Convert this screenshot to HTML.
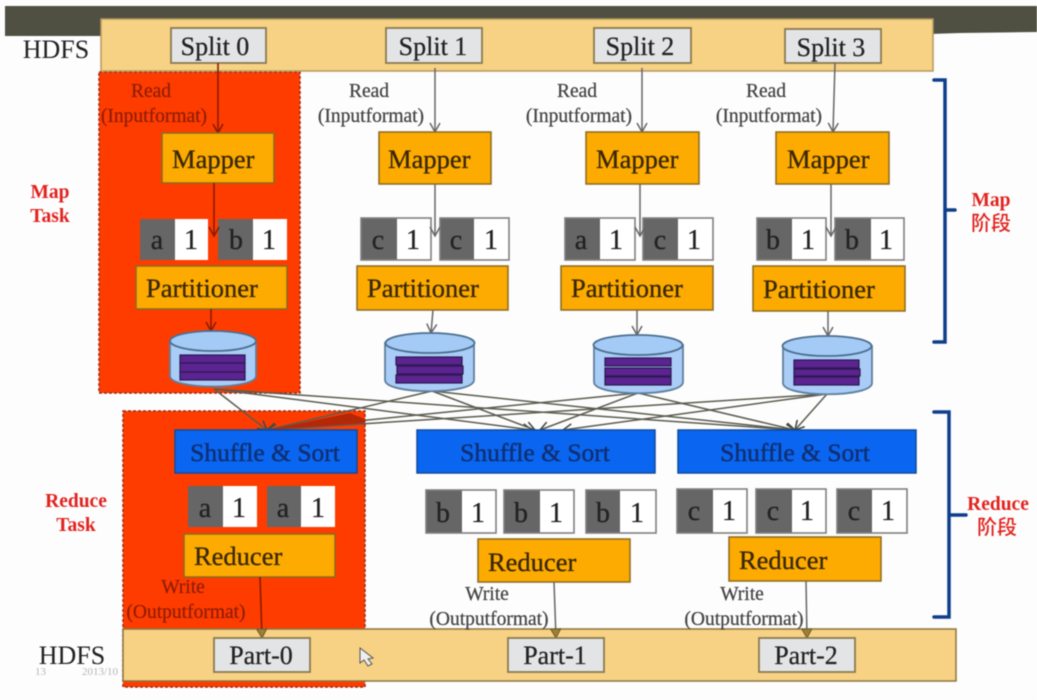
<!DOCTYPE html>
<html>
<head>
<meta charset="utf-8">
<style>
html,body{margin:0;padding:0;background:#fdfdfd;width:1037px;height:700px;overflow:hidden}
svg{display:block;filter:blur(0.55px)}
text{font-family:"Liberation Serif","Noto Serif CJK SC",serif}
.t26{font-size:26.5px;fill:#3a2804;stroke:#3a2804;stroke-width:.35}
.sp{font-size:26px;fill:#222;stroke:#222;stroke-width:.25;text-anchor:middle}
.sh{font-size:25.5px;fill:#0f2f74;stroke:#0f2f74;stroke-width:.45;text-anchor:middle}
.lb{font-size:19.5px;fill:#444;stroke:#444;stroke-width:.25;text-anchor:middle}
.lr{font-size:19.500px;fill:#8f1e06;stroke:#8f1e06;stroke-width:.25;text-anchor:middle}
.rd{font-size:19.5px;fill:#e2231f;font-weight:bold;text-anchor:middle}
.cj{font-size:20px;fill:#e2231f;text-anchor:middle;font-family:"Noto Sans CJK SC",sans-serif;font-weight:500}
.kv{font-size:28px;fill:#222;stroke:#222;stroke-width:.3;text-anchor:middle}
.o{fill:#fdab00;stroke:#8a6a20;stroke-width:1.5}
.s{fill:#e3e4e6;stroke:#8b7a50;stroke-width:1.8}
.b{fill:#0a66f0;stroke:#104a9c;stroke-width:1.5}
.g{fill:#666;stroke:none}
.w{fill:#fff;stroke:none}
.f{fill:none;stroke:#808080;stroke-width:1.6}
.l{fill:none;stroke:#666;stroke-width:1.5}
.ld{fill:none;stroke:#8a1c04;stroke-width:1.6}
.x{fill:none;stroke:#5c5c50;stroke-width:1.5}
.br{fill:none;stroke:#0f3f8c;stroke-width:3.5;stroke-linecap:round}
.cb{fill:#a9cdf6;stroke:#5f7f9f;stroke-width:1.8}
.ct{fill:#a3cbf5;stroke:#4c6f90;stroke-width:1.8}
.pu{fill:#5b2490;stroke:#2c1a50;stroke-width:1.2}
</style>
</head>
<body>
<svg width="1037" height="700" viewBox="0 0 1037 700" xmlns="http://www.w3.org/2000/svg">
<defs>
<marker id="ag" markerWidth="14" markerHeight="14" refX="11" refY="6" orient="auto" markerUnits="userSpaceOnUse"><path d="M2 1 L11 6 L2 11" fill="none" stroke="#666" stroke-width="1.5"/></marker>
<marker id="ar" markerWidth="14" markerHeight="14" refX="11" refY="6" orient="auto" markerUnits="userSpaceOnUse"><path d="M2 1 L11 6 L2 11" fill="none" stroke="#8a1c04" stroke-width="1.6"/></marker>
<marker id="at" markerWidth="14" markerHeight="14" refX="11" refY="6" orient="auto" markerUnits="userSpaceOnUse"><path d="M2 1 L11 6 L2 11 Z" fill="#a08030" stroke="#6a5a30" stroke-width="1"/></marker>
<marker id="ad" markerWidth="14" markerHeight="14" refX="11" refY="6" orient="auto" markerUnits="userSpaceOnUse"><path d="M2 1 L11 6 L2 11" fill="none" stroke="#4a4a40" stroke-width="1.6"/></marker>
</defs>

<rect width="1037" height="700" fill="#fdfdfd"/>
<path d="M5 6 H1037 V32 L960 33 L930 34 L101 34 V36 H5 Z" fill="#4f4f42"/>

<!-- red task areas -->
<rect x="99" y="72" width="201" height="321" fill="#ff3c00" stroke="#9c2a10" stroke-width="1.5" stroke-dasharray="3 2"/>
<rect x="123" y="411" width="242" height="276" fill="#ff3c00" stroke="#9c2a10" stroke-width="1.5" stroke-dasharray="3 2"/>

<!-- HDFS bars -->
<rect x="101" y="19" width="832" height="52" fill="#f7d184" stroke="#b49a5e" stroke-width="1.5"/>
<rect x="123" y="629" width="833" height="52" fill="#f7d184" stroke="#8c7440" stroke-width="1.5"/>
<text x="56" y="58" font-size="26" fill="#222" text-anchor="middle">HDFS</text>
<text x="72" y="664" font-size="26" fill="#222" text-anchor="middle">HDFS</text>
<text x="35" y="675" font-size="11" fill="#b5b5b5">13</text>
<text x="82" y="675" font-size="11" fill="#b5b5b5">2013/10</text>

<!-- shuffle connectors -->
<g class="x">
<line x1="214" y1="389" x2="267" y2="430" marker-end="url(#ad)"/>
<line x1="214" y1="389" x2="532" y2="430" marker-end="url(#ad)"/>
<line x1="214" y1="389" x2="795" y2="430" marker-end="url(#ad)"/>
<line x1="432" y1="391" x2="267" y2="430" marker-end="url(#ad)"/>
<line x1="432" y1="391" x2="535" y2="430" marker-end="url(#ad)"/>
<line x1="432" y1="391" x2="795" y2="430" marker-end="url(#ad)"/>
<line x1="638" y1="393" x2="267" y2="430" marker-end="url(#ad)"/>
<line x1="638" y1="393" x2="540" y2="430" marker-end="url(#ad)"/>
<line x1="638" y1="393" x2="795" y2="430" marker-end="url(#ad)"/>
<line x1="827" y1="394" x2="267" y2="430" marker-end="url(#ad)"/>
<line x1="827" y1="394" x2="563" y2="430" marker-end="url(#ad)"/>
<line x1="827" y1="394" x2="795" y2="430" marker-end="url(#ad)"/>
</g>
<path d="M350 413 L267 430 L365 423 V419 Z" fill="#b42808"/>

<!-- splits -->
<rect class="s" x="171" y="28" width="95" height="35"/>
<rect class="s" x="386" y="28" width="96" height="35"/>
<rect class="s" x="594" y="28" width="97" height="35"/>
<rect class="s" x="785" y="29" width="96" height="34"/>
<text class="sp" x="215" y="55">Split 0</text>
<text class="sp" x="433" y="55">Split 1</text>
<text class="sp" x="640" y="55">Split 2</text>
<text class="sp" x="831" y="56">Split 3</text>

<!-- read labels -->
<text class="lr" x="151" y="97">Read</text>
<text class="lr" x="154" y="122">(Inputformat)</text>
<text class="lb" x="369" y="97">Read</text>
<text class="lb" x="371" y="122">(Inputformat)</text>
<text class="lb" x="577" y="97">Read</text>
<text class="lb" x="579" y="122">(Inputformat)</text>
<text class="lb" x="766" y="97">Read</text>
<text class="lb" x="769" y="122">(Inputformat)</text>

<!-- split to mapper -->
<line class="ld" x1="218" y1="63" x2="218" y2="133" marker-end="url(#ar)"/>
<line class="l" x1="435" y1="68" x2="435" y2="132" marker-end="url(#ag)"/>
<line class="l" x1="642" y1="68" x2="642" y2="132" marker-end="url(#ag)"/>
<line class="l" x1="835" y1="63" x2="833" y2="132" marker-end="url(#ag)"/>

<!-- mappers -->
<rect class="o" x="162" y="133" width="112" height="50"/>
<rect class="o" x="379" y="132" width="112" height="52"/>
<rect class="o" x="586" y="132" width="113" height="52"/>
<rect class="o" x="776" y="132" width="113" height="52"/>
<text class="t26" x="172" y="168">Mapper</text>
<text class="t26" x="388" y="168">Mapper</text>
<text class="t26" x="596" y="168">Mapper</text>
<text class="t26" x="787" y="168">Mapper</text>

<!-- kv row 1 -->
<g>
<rect class="w" x="140" y="219" width="68" height="41"/><rect class="g" x="140" y="219" width="35" height="41"/>
<rect class="w" x="218" y="219" width="69" height="41"/><rect class="g" x="218" y="219" width="35" height="41"/>
<rect class="w" x="361" y="218" width="70" height="42"/><rect class="g" x="361" y="218" width="36" height="42"/><rect class="f" x="361" y="218" width="70" height="42"/>
<rect class="w" x="440" y="218" width="69" height="42"/><rect class="g" x="440" y="218" width="34" height="42"/><rect class="f" x="440" y="218" width="69" height="42"/>
<rect class="w" x="565" y="218" width="70" height="42"/><rect class="g" x="565" y="218" width="35" height="42"/><rect class="f" x="565" y="218" width="70" height="42"/>
<rect class="w" x="643" y="218" width="70" height="42"/><rect class="g" x="643" y="218" width="35" height="42"/><rect class="f" x="643" y="218" width="70" height="42"/>
<rect class="w" x="757" y="218" width="69" height="42"/><rect class="g" x="757" y="218" width="35" height="42"/><rect class="f" x="757" y="218" width="69" height="42"/>
<rect class="w" x="835" y="218" width="69" height="42"/><rect class="g" x="835" y="218" width="36" height="42"/><rect class="f" x="835" y="218" width="69" height="42"/>
</g>
<text class="kv" x="157" y="249">a</text><text class="kv" x="191" y="249">1</text>
<text class="kv" x="236" y="249">b</text><text class="kv" x="269" y="249">1</text>
<text class="kv" x="378" y="249">c</text><text class="kv" x="413" y="249">1</text>
<text class="kv" x="456" y="249">c</text><text class="kv" x="491" y="249">1</text>
<text class="kv" x="581" y="249">a</text><text class="kv" x="616" y="249">1</text>
<text class="kv" x="660" y="249">c</text><text class="kv" x="694" y="249">1</text>
<text class="kv" x="773" y="249">b</text><text class="kv" x="808" y="249">1</text>
<text class="kv" x="852" y="249">b</text><text class="kv" x="886" y="249">1</text>

<!-- mapper to kv -->
<line class="ld" x1="214" y1="183" x2="214" y2="236" marker-end="url(#ar)"/>
<line class="l" x1="435" y1="184" x2="435" y2="236" marker-end="url(#ag)"/>
<line class="l" x1="640" y1="184" x2="640" y2="236" marker-end="url(#ag)"/>
<line class="l" x1="831" y1="184" x2="831" y2="236" marker-end="url(#ag)"/>

<!-- partitioners -->
<rect class="o" x="136" y="266" width="151" height="43"/>
<rect class="o" x="357" y="266" width="151" height="44"/>
<rect class="o" x="561" y="266" width="152" height="44"/>
<rect class="o" x="753" y="266" width="152" height="45"/>
<text class="t26" x="146" y="297">Partitioner</text>
<text class="t26" x="367" y="297">Partitioner</text>
<text class="t26" x="571" y="297">Partitioner</text>
<text class="t26" x="763" y="298">Partitioner</text>

<line class="ld" x1="211" y1="309" x2="211" y2="331" marker-end="url(#ar)"/>
<line class="l" x1="433" y1="310" x2="431" y2="333" marker-end="url(#ag)"/>
<line class="l" x1="637" y1="310" x2="637" y2="335" marker-end="url(#ag)"/>
<line class="l" x1="828" y1="311" x2="828" y2="336" marker-end="url(#ag)"/>

<!-- cylinders -->
<g>
<path class="cb" d="M170 341 V376 C170 390 256 390 256 376 V341 Z"/><ellipse class="ct" cx="213" cy="341" rx="43" ry="10"/>
<rect class="pu" x="180" y="355" width="65" height="8"/><rect class="pu" x="180" y="363" width="65" height="9"/><rect class="pu" x="180" y="372" width="65" height="8"/>
<path class="cb" d="M385 343 V380 C385 395 474 395 474 380 V343 Z"/><ellipse class="ct" cx="430" cy="343" rx="44.500" ry="10"/>
<rect class="pu" x="396" y="357" width="66" height="8"/><rect class="pu" x="397" y="366" width="66" height="8"/><rect class="pu" x="396" y="375" width="66" height="8"/>
<path class="cb" d="M594 345 V382 C594 397 683 397 683 382 V345 Z"/><ellipse class="ct" cx="638" cy="345" rx="44.500" ry="10"/>
<rect class="pu" x="605" y="358" width="66" height="8"/><rect class="pu" x="605" y="368" width="66" height="8"/><rect class="pu" x="605" y="377" width="66" height="8"/>
<path class="cb" d="M783 346 V383 C783 398 872 398 872 383 V346 Z"/><ellipse class="ct" cx="827" cy="346" rx="44.500" ry="10"/>
<rect class="pu" x="794" y="360" width="65" height="8"/><rect class="pu" x="794" y="369" width="66" height="7"/><rect class="pu" x="794" y="377" width="65" height="8"/>
</g>

<!-- shuffle -->
<rect class="b" x="175" y="430" width="182" height="43"/>
<rect class="b" x="417" y="430" width="238" height="43"/>
<rect class="b" x="678" y="430" width="238" height="43"/>
<text class="sh" x="265" y="461">Shuffle &amp; Sort</text>
<text class="sh" x="535" y="461">Shuffle &amp; Sort</text>
<text class="sh" x="795" y="461">Shuffle &amp; Sort</text>

<!-- kv row 2 -->
<g>
<rect class="w" x="188" y="486" width="69" height="41"/><rect class="g" x="188" y="486" width="35" height="41"/>
<rect class="w" x="267" y="486" width="68" height="41"/><rect class="g" x="267" y="486" width="34" height="41"/>
<rect class="w" x="426" y="490" width="70" height="43"/><rect class="g" x="426" y="490" width="36" height="43"/><rect class="f" x="426" y="490" width="70" height="43"/>
<rect class="w" x="504" y="490" width="70" height="43"/><rect class="g" x="504" y="490" width="36" height="43"/><rect class="f" x="504" y="490" width="70" height="43"/>
<rect class="w" x="586" y="490" width="70" height="43"/><rect class="g" x="586" y="490" width="34" height="43"/><rect class="f" x="586" y="490" width="70" height="43"/>
<rect class="w" x="677" y="489" width="70" height="44"/><rect class="g" x="677" y="489" width="36" height="44"/><rect class="f" x="677" y="489" width="70" height="44"/>
<rect class="w" x="756" y="489" width="70" height="44"/><rect class="g" x="756" y="489" width="36" height="44"/><rect class="f" x="756" y="489" width="70" height="44"/>
<rect class="w" x="837" y="489" width="70" height="44"/><rect class="g" x="837" y="489" width="35" height="44"/><rect class="f" x="837" y="489" width="70" height="44"/>
</g>
<text class="kv" x="205" y="517">a</text><text class="kv" x="239" y="517">1</text>
<text class="kv" x="283" y="517">a</text><text class="kv" x="318" y="517">1</text>
<text class="kv" x="443" y="522">b</text><text class="kv" x="478" y="522">1</text>
<text class="kv" x="521" y="522">b</text><text class="kv" x="556" y="522">1</text>
<text class="kv" x="603" y="522">b</text><text class="kv" x="637" y="522">1</text>
<text class="kv" x="694" y="520">c</text><text class="kv" x="729" y="520">1</text>
<text class="kv" x="773" y="520">c</text><text class="kv" x="807" y="520">1</text>
<text class="kv" x="854" y="520">c</text><text class="kv" x="888" y="520">1</text>

<!-- reducers -->
<rect class="o" x="184" y="534" width="151" height="43"/>
<rect class="o" x="478" y="539" width="152" height="43"/>
<rect class="o" x="729" y="537" width="152" height="44"/>
<text class="t26" x="194" y="565">Reducer</text>
<text class="t26" x="488" y="571">Reducer</text>
<text class="t26" x="739" y="569">Reducer</text>

<!-- write labels -->
<text class="lr" x="183" y="593">Write</text>
<text class="lr" x="186" y="618">(Outputformat)</text>
<text class="lb" x="487" y="600">Write</text>
<text class="lb" x="489" y="625">(Outputformat)</text>
<text class="lb" x="742" y="600">Write</text>
<text class="lb" x="744" y="625">(Outputformat)</text>

<line class="ld" x1="260" y1="577" x2="262" y2="638" marker-end="url(#at)"/>
<line class="l" x1="554" y1="582" x2="556" y2="638" marker-end="url(#at)"/>
<line class="l" x1="806" y1="581" x2="807" y2="638" marker-end="url(#at)"/>

<!-- parts -->
<rect class="s" x="214" y="638" width="96" height="34"/>
<rect class="s" x="508" y="638" width="96" height="34"/>
<rect class="s" x="759" y="638" width="96" height="34"/>
<text class="sp" x="261" y="664">Part-0</text>
<text class="sp" x="555" y="664">Part-1</text>
<text class="sp" x="806" y="664">Part-2</text>

<!-- cursor -->
<path d="M360 648 V663 L364 660 L368 666 L372 664 L368 659 L373 658 Z" fill="#eeeeee" stroke="#555" stroke-width="1"/>

<!-- brackets -->
<path class="br" d="M934 80 H945 V342 H934 M945 210 H955"/>
<path class="br" d="M934 412 H949 V617 H934 M949 515 H966"/>

<!-- side labels -->
<text class="rd" x="50" y="198">Map</text>
<text class="rd" x="50" y="222">Task</text>
<text class="rd" x="76" y="507">Reduce</text>
<text class="rd" x="76" y="531">Task</text>
<text class="rd" x="991" y="206">Map</text>
<text class="cj" x="991" y="230">阶段</text>
<text class="rd" x="998" y="510">Reduce</text>
<text class="cj" x="997" y="534">阶段</text>
</svg>
</body>
</html>
